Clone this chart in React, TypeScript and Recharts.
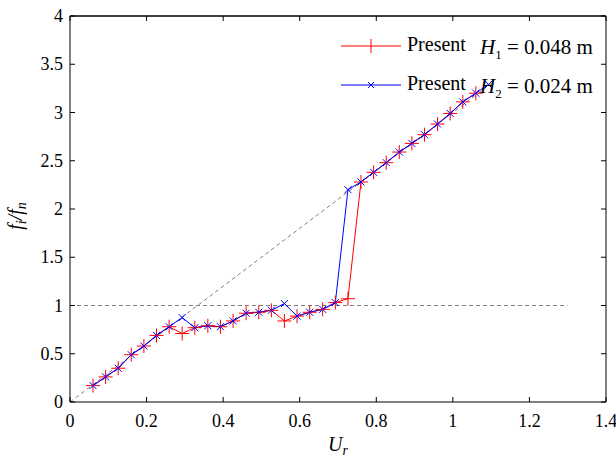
import React from "react";
import { LineChart, Line, XAxis, YAxis, ReferenceLine } from "recharts";

// reduced velocity U_r
const ur = [
  0.06, 0.093, 0.126, 0.16, 0.193, 0.226, 0.259, 0.293, 0.326, 0.36, 0.393,
  0.426, 0.46, 0.493, 0.526, 0.56, 0.593, 0.626, 0.66, 0.693, 0.726, 0.76,
  0.793, 0.826, 0.86, 0.893, 0.926, 0.96, 0.993, 1.026, 1.06, 1.093,
];
// f_i / f_n, H1 = 0.048 m
const presentH1 = [
  0.17, 0.26, 0.35, 0.49, 0.58, 0.69, 0.78, 0.71, 0.77, 0.79, 0.78, 0.84,
  0.92, 0.93, 0.95, 0.84, 0.89, 0.93, 0.96, 1.03, 1.07, 2.28, 2.38, 2.48,
  2.59, 2.68, 2.77, 2.88, 2.99, 3.11, 3.2, null,
];
// f_i / f_n, H2 = 0.024 m
const presentH2 = [
  0.17, 0.26, 0.35, 0.49, 0.58, 0.69, 0.78, 0.875, 0.77, 0.79, 0.78, 0.84,
  0.92, 0.93, 0.95, 1.02, 0.89, 0.93, 0.96, 1.03, 2.2, 2.28, 2.38, 2.48,
  2.59, 2.68, 2.77, 2.88, 2.99, 3.11, 3.2, 3.29,
];

const xTicks = [0, 0.2, 0.4, 0.6, 0.8, 1, 1.2, 1.4];
const yTicks = [0, 0.5, 1, 1.5, 2, 2.5, 3, 3.5, 4];

const data = ur.map((u, i) => ({ ur: u, h1: presentH1[i], h2: presentH2[i] }));

const FONT = "'Liberation Serif', 'Times New Roman', serif";
const txt = { fontFamily: FONT };

const PlusDot = (props: any) => {
  const { cx, cy, value, index } = props;
  if (value == null || cx == null || cy == null) return <g key={`p${index}`} />;
  return (
    <g key={`p${index}`} stroke="#ff0000" strokeWidth={1}>
      <line x1={cx - 7} x2={cx + 7} y1={cy} y2={cy} />
      <line x1={cx} x2={cx} y1={cy - 7} y2={cy + 7} />
    </g>
  );
};

const CrossDot = (props: any) => {
  const { cx, cy, value, index } = props;
  if (value == null || cx == null || cy == null) return <g key={`x${index}`} />;
  return (
    <g key={`x${index}`} stroke="#0000ff" strokeWidth={1}>
      <line x1={cx - 3.5} x2={cx + 3.5} y1={cy - 3.5} y2={cy + 3.5} />
      <line x1={cx - 3.5} x2={cx + 3.5} y1={cy + 3.5} y2={cy - 3.5} />
    </g>
  );
};

const BottomTick = ({ x, y, payload }: any) => (
  <g>
    <line x1={x} x2={x} y1={y - 8} y2={y - 13} stroke="#000" />
    <text x={x} y={y + 17} textAnchor="middle" style={txt} fontSize={18} fill="#000">
      {payload.value}
    </text>
  </g>
);

const LeftTick = ({ x, y, payload }: any) => (
  <g>
    <line x1={x + 8} x2={x + 13} y1={y} y2={y} stroke="#000" />
    <text x={x + 1} y={y + 6} textAnchor="end" style={txt} fontSize={18} fill="#000">
      {payload.value}
    </text>
  </g>
);

const TopTick = ({ x, y }: any) => (
  <line x1={x} x2={x} y1={y} y2={y + 5} stroke="#000" />
);

const RightTick = ({ x, y }: any) => (
  <line x1={x} x2={x - 5} y1={y} y2={y} stroke="#000" />
);

const LegendBox = () => (
  <svg
    width={270}
    height={80}
    style={{ position: "absolute", left: 335, top: 28, overflow: "visible" }}
  >
    <g style={txt} fill="#000">
      <line x1={6} x2={66} y1={18} y2={18} stroke="#ff0000" />
      <line x1={36} x2={36} y1={11} y2={25} stroke="#ff0000" />
      <text x={72} y={23} fontSize={20}>Present</text>
      <text x={145} y={26} fontSize={21}>
        <tspan fontStyle="italic">H</tspan>
        <tspan fontSize={13} dy={5}>1</tspan>
        <tspan dy={-5}> = 0.048 m</tspan>
      </text>

      <line x1={6} x2={66} y1={57} y2={57} stroke="#0000ff" />
      <line x1={33} x2={39} y1={54} y2={60} stroke="#0000ff" />
      <line x1={33} x2={39} y1={60} y2={54} stroke="#0000ff" />
      <text x={72} y={62} fontSize={20}>Present</text>
      <text x={145} y={65} fontSize={21}>
        <tspan fontStyle="italic">H</tspan>
        <tspan fontSize={13} dy={5}>2</tspan>
        <tspan dy={-5}> = 0.024 m</tspan>
      </text>
    </g>
  </svg>
);

const XLabel = ({ viewBox }: any) => (
  <text
    x={viewBox.x + viewBox.width / 2}
    y={viewBox.y + 49}
    textAnchor="middle"
    style={txt}
    fontSize={20}
    fontStyle="italic"
    fill="#000"
  >
    U<tspan fontSize={14} dy={4}>r</tspan>
  </text>
);

const YLabel = ({ viewBox }: any) => {
  const cx = 22;
  const cy = viewBox.y + viewBox.height / 2 + 7;
  return (
    <text
      transform={`translate(${cx},${cy}) rotate(-90)`}
      textAnchor="middle"
      style={txt}
      fontSize={20}
      fontStyle="italic"
      fill="#000"
    >
      f<tspan fontSize={14} dy={4}>i</tspan>
      <tspan dy={-4}>/f</tspan>
      <tspan fontSize={14} dy={4}>n</tspan>
    </text>
  );
};

export default function App() {
  return (
    <div style={{ position: "absolute", left: 0, top: 0, width: 616, height: 460, background: "#fff" }}>
      <LineChart
        width={616}
        height={460}
        data={data}
        margin={{ top: 14, right: 9, bottom: 0, left: 0 }}
      >
        <XAxis
          dataKey="ur"
          type="number"
          domain={[0, 1.4]}
          ticks={xTicks}
          height={58}
          tickSize={0}
          tickMargin={8}
          tickLine={false}
          tick={<BottomTick />}
          axisLine={{ stroke: "#000" }}
          label={<XLabel />}
          interval={0}
        />
        <XAxis
          xAxisId="top"
          dataKey="ur"
          orientation="top"
          type="number"
          domain={[0, 1.4]}
          ticks={xTicks}
          height={2}
          tickSize={0}
          tickMargin={0}
          tickLine={false}
          tick={<TopTick />}
          axisLine={{ stroke: "#000" }}
          interval={0}
        />
        <YAxis
          type="number"
          domain={[0, 4]}
          ticks={yTicks}
          width={70}
          tickSize={0}
          tickMargin={8}
          tickLine={false}
          tick={<LeftTick />}
          axisLine={{ stroke: "#000" }}
          label={<YLabel />}
          interval={0}
        />
        <YAxis
          yAxisId="right"
          orientation="right"
          type="number"
          domain={[0, 4]}
          ticks={yTicks}
          width={1}
          tickSize={0}
          tickMargin={0}
          tickLine={false}
          tick={<RightTick />}
          axisLine={{ stroke: "#000" }}
          interval={0}
        />
        <ReferenceLine y={4} stroke="#000" />
        <ReferenceLine
          segment={[{ x: 0, y: 1 }, { x: 1.3, y: 1 }]}
          stroke="#808080"
          strokeDasharray="4 3"
        />
        <ReferenceLine
          segment={[{ x: 0, y: 0 }, { x: 1.1, y: 3.3 }]}
          stroke="#808080"
          strokeDasharray="4 3"
        />
        {/* invisible series so the top/right frame axes get drawn */}
        <Line
          xAxisId="top"
          yAxisId="right"
          dataKey="h2"
          stroke="none"
          dot={false}
          activeDot={false}
          isAnimationActive={false}
        />
        <Line
          dataKey="h1"
          stroke="#ff0000"
          strokeWidth={1}
          dot={PlusDot}
          activeDot={false}
          isAnimationActive={false}
        />
        <Line
          dataKey="h2"
          stroke="#0000ff"
          strokeWidth={1}
          dot={CrossDot}
          activeDot={false}
          isAnimationActive={false}
        />
      </LineChart>
      <LegendBox />
    </div>
  );
}
